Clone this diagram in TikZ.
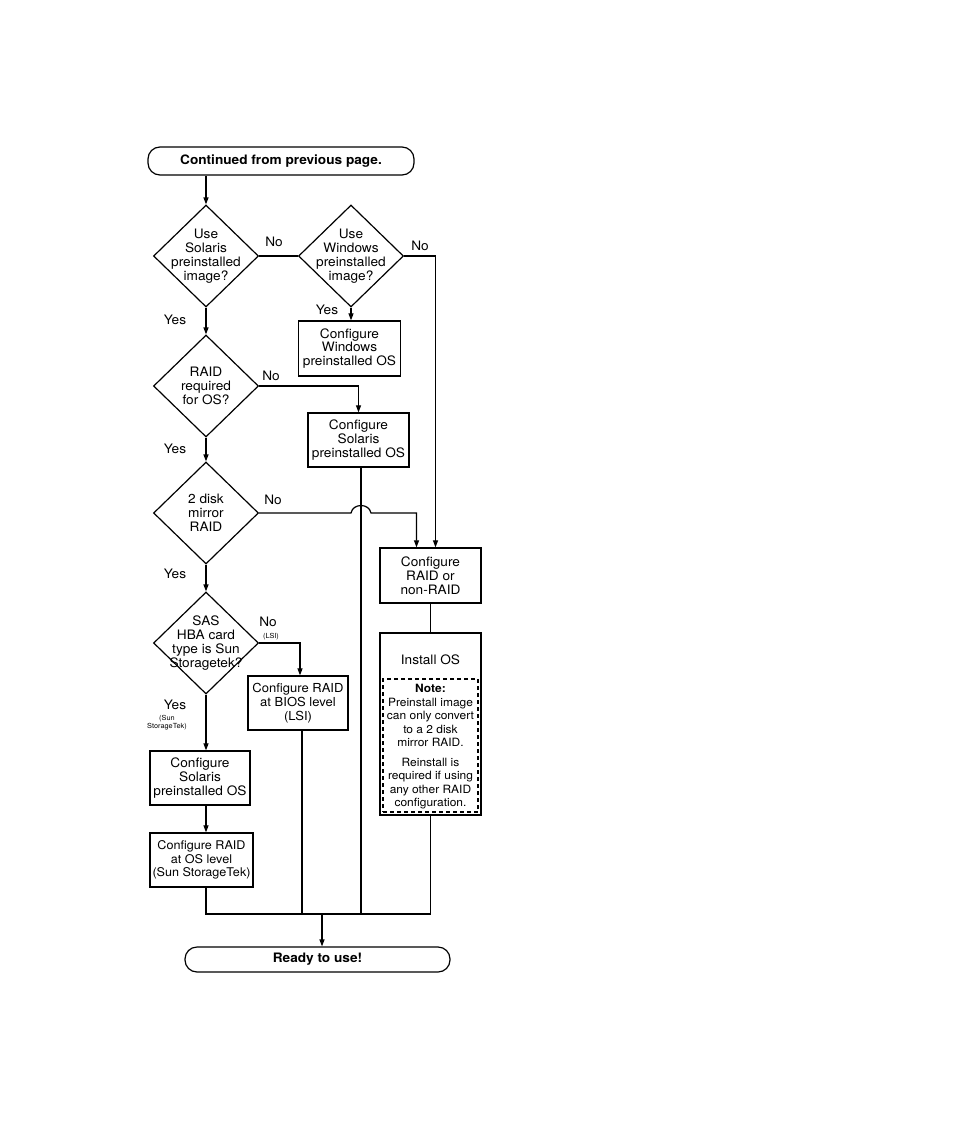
\documentclass[tikz,border=0pt]{standalone}
\usepackage{fontspec}
\setmainfont[FakeStretch=1.05]{TeX Gyre Heros}
\usetikzlibrary{arrows.meta,calc,shapes.geometric}
\begin{document}
\begin{tikzpicture}[x=1pt,y=-1pt,
  every node/.style={font=\fontsize{13}{13.8}\selectfont, align=center, inner sep=0pt},
  ln/.style={line width=1.2pt},
  arr/.style={ln,-{Triangle[length=7pt,width=5pt]}},
  dia/.style={draw, line width=1.2pt, shape=diamond, minimum width=105pt, minimum height=102pt, inner sep=0pt},
  boxx/.style={draw, line width=1.3pt, rectangle},
  term/.style={draw, line width=1.2pt, rounded corners=12pt},
  lbl/.style={font=\fontsize{13}{14}\selectfont},
  sm/.style={font=\fontsize{7}{8}\selectfont},
  notetxt/.style={font=\fontsize{11.4}{13.5}\selectfont}
]
\useasboundingbox[fill=white] (0,0) rectangle (954,1145);

% terminals
\node[term, minimum width=266pt, minimum height=28pt, font=\bfseries\fontsize{13}{14}\selectfont] (t1) at (281,161) {Continued from previous page.};
\node[term, minimum width=265pt, minimum height=25pt, font=\bfseries\fontsize{13}{14}\selectfont] (t2) at (317.5,959.5) {Ready to use!};

% diamonds
\node[dia] (d1) at (206,256) {};
\node at (d1) {Use\\Solaris\\preinstalled\\image?};
\node[dia] (d2) at (351,256) {};
\node at (d2) {Use\\Windows\\preinstalled\\image?};
\node[dia] (d3) at (206,386) {};
\node at (d3) {RAID\\required\\for OS?};
\node[dia] (d4) at (206,513) {};
\node at (d4) {2 disk\\mirror\\RAID};
\node[dia] (d5) at (206,643) {};
\node at (d5) {SAS\\HBA card\\type is Sun\\Storagetek?};

% boxes
\node[boxx, minimum width=102pt, minimum height=55pt] (cwin) at (349.5,348.5) {Configure\\Windows\\preinstalled OS};
\node[boxx, minimum width=101pt, minimum height=54pt] (csol1) at (358.5,440) {Configure\\Solaris\\preinstalled OS};
\node[boxx, minimum width=101pt, minimum height=55pt] (craid) at (430.5,575.5) {Configure\\RAID or\\non-RAID};
\node[boxx, minimum width=101pt, minimum height=182pt] (inst) at (430.5,724) {};
\node at (430.5,660) {Install OS};
\node[draw, dashed, line width=1.1pt, dash pattern=on 4pt off 3pt, minimum width=95pt, minimum height=133pt] (note) at (430.5,745.5) {};
\node[notetxt, anchor=north] at (430.5,684) {\textbf{Note:}\\Preinstall image\\can only convert\\to a 2 disk\\mirror RAID.\\[6pt]Reinstall is\\required if using\\any other RAID\\configuration.};
\node[boxx, minimum width=100pt, minimum height=54pt, font=\fontsize{12.4}{13.8}\selectfont] (cbios) at (298,703) {Configure RAID\\at BIOS level\\(LSI)};
\node[boxx, minimum width=100pt, minimum height=54pt] (csol2) at (200,778) {Configure\\Solaris\\preinstalled OS};
\node[boxx, minimum width=103pt, minimum height=54pt, font=\fontsize{12}{13.8}\selectfont] (craidos) at (201.5,860) {Configure RAID\\at OS level\\(Sun StorageTek)};

% labels
\node[lbl] (n1) at (274,242) {No};
\node[lbl] (n2) at (420,246) {No};
\node[lbl] (y2) at (327,310) {Yes};
\node[lbl] (y1) at (175,320) {Yes};
\node[lbl] (n3) at (271,376) {No};
\node[lbl] (y3) at (175,449) {Yes};
\node[lbl] (n4) at (273,500) {No};
\node[lbl] (y4) at (175,574) {Yes};
\node[lbl] (n5) at (268,622) {No};
\node[sm] (n5s) at (271,637) {(LSI)};
\node[lbl] (y5) at (175,705) {Yes};
\node[sm, align=center] (y5s) at (167,723) {(Sun\\StorageTek)};

% coordinates
\coordinate (bus) at (322,914);
\coordinate (craidA) at ([xshift=-14pt]craid.north);
\coordinate (craidB) at ([xshift=5pt]craid.north);
\coordinate (solv) at (361,467);

% connectors
\draw[arr] (d1.north |- t1.south) -- (d1.north);
\draw[ln] (d1.east) -- (d2.west);
\draw[arr] (d2.east) -| (craidB);
\draw[arr] (d2.south) -- (d2.south |- cwin.north);
\draw[arr] (d1.south) -- (d3.north);
\draw[arr] (d3.east) -| (csol1.north);
\draw[arr] (d3.south) -- (d4.north);
\draw[arr] (d4.east) -- (351,513) .. controls (353,503) and (369,503) .. (371,513) -| (craidA);
\draw[ln] (csol1.south -| solv) -- (solv |- bus);
\draw[ln] (craid.south) -- (inst.north);
\draw[arr] (d4.south) -- (d5.north);
\draw[arr] (d5.east) -| ([xshift=2pt]cbios.north);
\draw[ln] ([xshift=4pt]cbios.south) -- ([xshift=4pt]cbios.south |- bus);
\draw[arr] (d5.south) -- (d5.south |- csol2.north);
\draw[arr] (csol2.south -| d5.south) -- (craidos.north -| d5.south);
\draw[ln] (craidos.south -| d5.south) |- (inst.south |- bus) -- (inst.south);
\draw[arr] (bus) -- (bus |- t2.north);
\end{tikzpicture}
\end{document}
